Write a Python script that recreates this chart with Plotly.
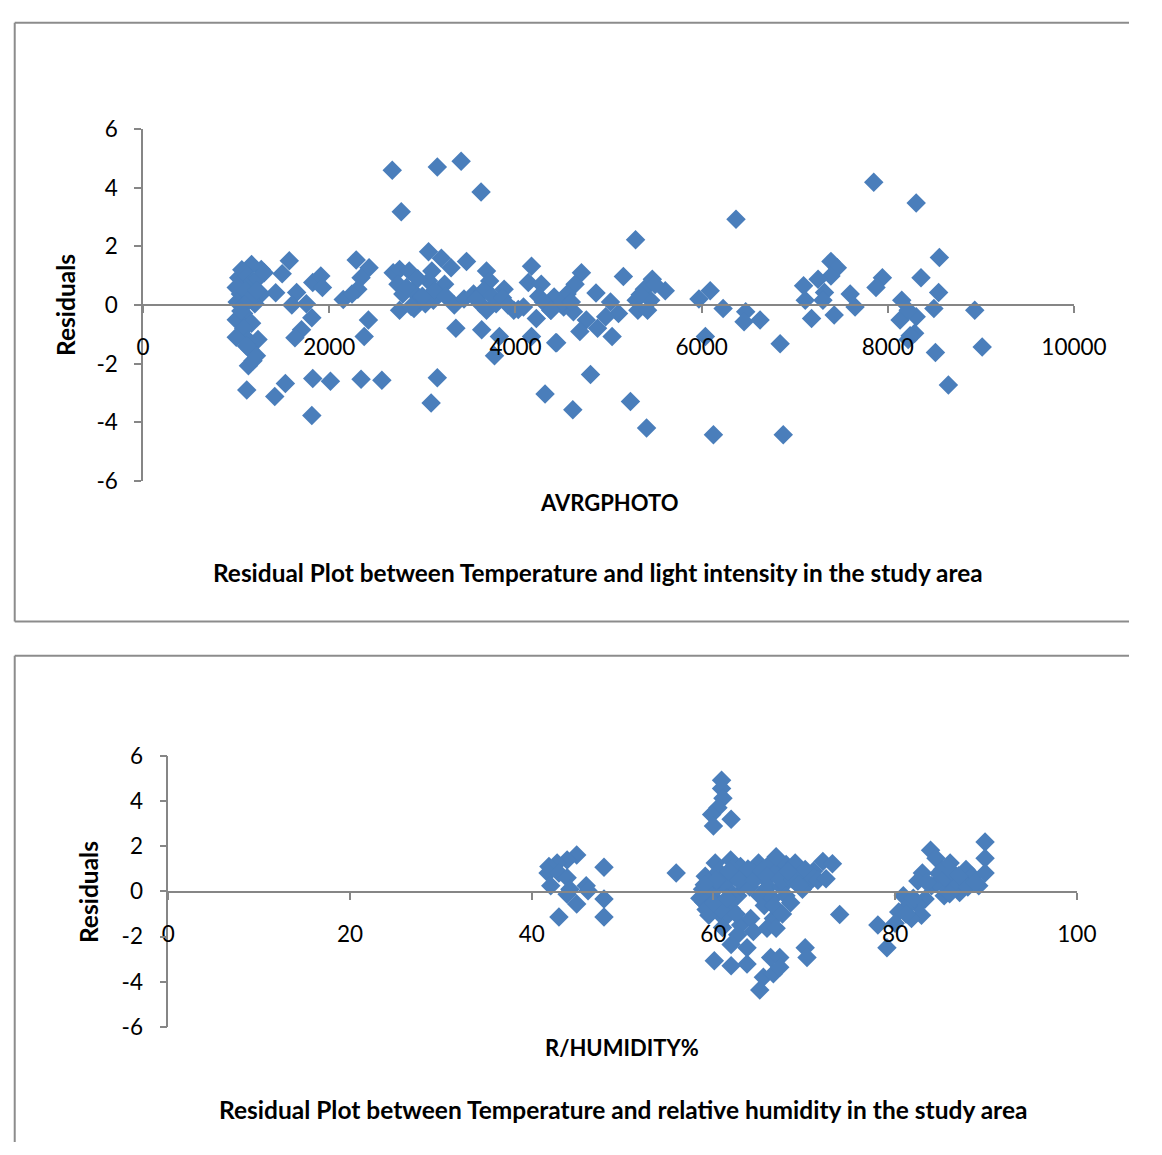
import plotly.graph_objects as go

# ---------------- data: top chart (AVRGPHOTO vs residuals) ----------------
photo_x = [
    1027, 1045, 1096, 1165, 1269, 1269, 1200, 1079, 1165, 1062, 1234, 1148, 1217, 1131, 1113,
    1000, 1060, 1120, 1180, 1230, 1300, 1010, 1100, 1150, 1000, 1080, 1130, 1000, 1180, 1110,
    1220, 1090, 1050,
    1424, 1494, 1570, 1414, 1528, 1649, 1597, 1753, 1812, 1701, 1631, 1822, 1909, 1926, 1822,
    1812, 2012, 2150, 2289, 2427, 2341, 2306, 2244, 2420, 2375, 2341, 2565, 2676, 2773, 3160,
    3416, 3630, 2686, 2755, 2859, 2738, 2790, 2893, 2963, 2755, 2910, 3032, 3066, 3204, 3308,
    3101, 3066, 3239, 3170, 3118, 3474, 3360, 3637, 3343, 3447, 3550, 3689, 3723, 3654, 3620,
    3689, 3792, 3878, 3775, 3827, 3982, 4086, 4172, 4138, 4277, 4224, 4432, 4172, 4415, 4380,
    4518, 3160, 3094, 4318,
    2830, 2950, 3000, 2880, 3130, 3250, 3580, 3750, 3860, 3920, 4030, 4250, 4300,
    7849, 8305, 6369, 5290, 8554, 7389, 7458, 7389, 7251, 7095, 7320, 7303, 7113, 7181, 7424,
    7596, 7648, 7942, 7873, 8357, 8150, 8546, 8495, 8132, 8305, 8219, 8288, 8219, 8512, 8651,
    8934, 9014, 4709, 4640, 4554, 4865, 5159, 5021, 5107, 4969, 4761, 4692, 4882, 5038, 4443,
    4623, 4485, 4381, 5470, 5384, 5609, 5297, 5453, 5315, 5419, 5971, 6092, 6040, 6231, 6473,
    6456, 6628, 6843, 4806, 4616, 5235, 5408, 6127, 6877,
    8240, 5340, 5500, 4600,
]
photo_res = [
    0.93, 0.38, 0.93, 1.38, 1.21, 0.38, 0.04, -0.29, -0.62, -1.07, -1.18, -1.51, -1.73, -2.07, -2.90,
    0.60, 1.20, 1.00, 0.80, 0.90, 1.10, 0.10, 0.50, 0.20, -0.50, -0.80, -1.20, -1.10, -1.90, -1.40,
    0.50, 0.00, -0.20,
    0.42, 1.07, 1.51, -3.12, -2.68, 0.43, 0.00, 0.04, -0.43, -0.84, -1.12, 0.77, 0.99, 0.60, -2.51,
    -3.77, -2.60, 0.19, 1.54, 1.27, 0.93, 0.54, 0.38, -0.51, -1.07, -2.53, -2.57, 4.60, 3.18, 4.71,
    4.91, 3.86, 1.10, 1.21, 1.16, 0.71, 0.38, 0.49, 0.16, -0.18, -0.12, 0.04, 1.82, 1.60, 1.27,
    1.16, 0.82, 0.71, 0.38, 0.16, 1.49, -0.79, -0.84, 0.00, 0.21, 0.38, 1.16, 0.82, 0.49, 0.04,
    -0.18, 0.04, 0.54, -1.73, -1.07, -0.18, -0.07, 1.32, 0.77, 0.71, -0.46, -1.29, -1.07, 0.27, -0.18,
    -0.07, -2.48, -3.34, -3.04,
    0.60, 0.90, 0.30, -0.05, 0.50, 0.30, 0.20, 0.30, 0.25, 0.00, -0.15, 0.30, 0.10,
    4.19, 3.48, 2.93, 2.23, 1.62, 1.49, 1.27, 0.99, 0.88, 0.66, 0.43, 0.16, 0.16, -0.46, -0.34,
    0.38, -0.07, 0.93, 0.60, 0.93, 0.16, 0.43, -0.12, -0.51, -0.40, -0.18, -0.96, -1.18, -1.62, -2.73,
    -0.18, -1.43, 1.10, 0.71, 0.38, 0.41, 0.97, 0.10, -0.29, -0.40, -0.51, -0.90, -0.79, -1.07, -1.29,
    -0.23, 0.04, -0.18, 0.88, 0.54, 0.49, 0.16, 0.16, -0.18, -0.18, 0.21, 0.49, -1.07, -0.12, -0.23,
    -0.57, -0.51, -1.32, -2.37, -3.57, -3.29, -4.20, -4.43, -4.43,
    -1.05, 0.35, 0.70, 0.10,
]

# ---------------- data: bottom chart (R/HUMIDITY% vs residuals) ----------------
hum_x = [
    44.95, 43.9, 42.8, 41.9, 41.8, 43.0, 43.9, 42.1, 44.2, 46.0, 46.2, 43.9, 44.95, 47.96, 47.96,
    47.96, 43.0, 55.9,
    60.9, 60.9, 61.05, 60.5, 59.8, 60.0, 61.95,
    60.2, 61.9, 62.98, 59.1, 60.9, 62.3, 58.8, 60.2, 61.6, 62.67, 58.95, 60.5, 61.95, 59.5, 61.2,
    63.0, 64.1, 64.4, 62.67, 61.95, 63.7, 60.1, 61.95, 63.7, 65.5, 65.1, 64.97, 64.4, 65.1, 66.3,
    65.8, 65.6, 66.6, 65.9, 66.3, 66.6,
    59.5, 60.6, 61.3, 62.0, 63.5, 59.8, 60.8, 62.2, 63.3, 64.0, 61.0, 62.5,
    58.5, 59.2, 60.0, 61.5, 62.8, 63.8, 61.7, 60.3, 59.0, 64.5, 65.3, 66.0, 67.0, 68.0, 69.5,
    70.5, 71.0, 66.5, 67.5,
    66.9, 69.0, 70.1, 70.99, 72.05, 73.1, 65.9, 67.3, 68.7, 69.8, 67.98, 66.6, 66.9, 73.9, 67.3,
    70.1, 70.3, 67.3, 68.2, 69.4, 71.5, 68.5, 67.6, 72.4,
    83.9, 84.5, 83.0, 82.5, 85.2, 86.05, 86.4, 87.8, 88.5, 89.9, 89.9, 89.9, 89.2, 87.1, 85.4,
    84.0, 83.3, 82.5, 82.9, 80.9, 81.45, 80.4, 80.0, 78.1, 79.1, 87.5, 84.6, 85.8, 88.0, 86.7,
    81.8, 84.8, 85.5, 86.2, 87.0, 88.8, 83.5, 82.0, 81.2, 86.0,
]
hum_res = [
    1.62, 1.40, 1.26, 1.11, 0.82, 0.82, 0.61, 0.25, 0.10, 0.25, 0.03, -0.12, -0.55, 1.08, -0.33,
    -1.13, -1.13, 0.82,
    4.93, 4.57, 4.14, 3.71, 3.42, 2.91, 3.20,
    1.26, 1.40, 1.11, 0.68, 0.68, 0.68, 0.10, 0.10, 0.10, -0.19, -0.48, -0.48, -0.76, -1.05, -1.20,
    -1.49, -1.20, -1.77, -1.92, -2.35, -2.50, -3.07, -3.29, -3.22, -3.80, -4.37, 1.26, 0.82, -0.19, 1.26,
    0.53, -0.62, -1.20, -1.63, -2.93, -3.65,
    0.40, 0.90, 0.40, 1.00, 0.80, -0.20, -0.80, -0.30, 0.30, 0.20, -1.60, -1.00,
    -0.30, -0.80, -0.50, -0.30, 0.50, 1.00, 0.90, 0.50, 0.30, 0.50, 0.90, 0.20, 0.90, 1.20, 0.80,
    0.40, 0.90, -0.30, 0.20,
    1.54, 1.26, 0.97, 0.61, 1.33, 1.23, 0.68, 0.53, 0.53, 0.10, -0.19, -0.62, -1.63, -1.02, -2.93,
    -2.50, -2.93, -3.36, 0.90, 0.30, 0.50, -0.50, -1.00, 0.56,
    1.83, 1.47, 0.82, 0.46, 0.97, 1.26, 0.68, 0.97, 0.68, 2.19, 1.47, 0.82, 0.25, -0.04, -0.19,
    0.25, -0.33, -0.62, -1.05, -0.19, -0.62, -0.91, -1.41, -1.49, -2.50, 0.39, 0.39, 0.10, 0.20, 0.50,
    -1.20, 0.80, 0.60, 0.90, 0.70, 0.40, 0.40, -0.30, -1.00, -0.10,
]

res_ticks = [-6, -4, -2, 0, 2, 4, 6]
res_ticktext = ["-6", "-4", "-2", "0", "2", "4", "6"]
photo_ticks = [0, 2000, 4000, 6000, 8000, 10000]
photo_ticktext = ["0", "2000", "4000", "6000", "8000", "10000"]
hum_ticks = [0, 20, 40, 60, 80, 100]
hum_ticktext = ["0", "20", "40", "60", "80", "100"]

W, H = 1162, 1155
FONT = "Lato"
AXC = "#868686"
MARKER = "#4A7EBB"

def px(x):
    return x / W

def py(y):
    return 1 - y / H

fig = go.Figure()
fig.add_trace(go.Scatter(
    x=photo_x, y=photo_res, mode="markers", xaxis="x", yaxis="y",
    marker=dict(symbol="diamond", size=15, color=MARKER, line=dict(width=0)),
    showlegend=False, cliponaxis=False,
))
fig.add_trace(go.Scatter(
    x=hum_x, y=hum_res, mode="markers", xaxis="x2", yaxis="y2",
    marker=dict(symbol="diamond", size=15, color=MARKER, line=dict(width=0)),
    showlegend=False, cliponaxis=False,
))

tickfont = dict(family=FONT, size=22.5, color="black")
common_x = dict(showline=True, linecolor=AXC, linewidth=1.5, ticks="outside", ticklen=7,
                tickcolor=AXC, tickwidth=1.5, showgrid=False, zeroline=False,
                tickfont=tickfont, anchor="free", ticklabelstandoff=15)
common_y = dict(showline=True, linecolor=AXC, linewidth=1.5, ticks="outside", ticklen=7,
                tickcolor=AXC, tickwidth=1.5, showgrid=False, zeroline=False,
                tickfont=tickfont, range=[-6, 6], tickvals=res_ticks, ticktext=res_ticktext,
                ticklabelstandoff=12)

fig.update_layout(
    width=W, height=H, margin=dict(l=0, r=0, t=0, b=0),
    paper_bgcolor="white", plot_bgcolor="white",
    xaxis=dict(domain=[px(141), px(1105)], range=[0, 10000], tickvals=photo_ticks,
               ticktext=photo_ticktext, position=py(298), **common_x),
    yaxis=dict(domain=[py(478), py(118)], anchor="x", **common_y),
    xaxis2=dict(domain=[px(167), px(1108)], range=[0, 100], tickvals=hum_ticks,
                ticktext=hum_ticktext, position=py(899), **common_x),
    yaxis2=dict(domain=[py(1037), py(760)], anchor="x2", **common_y),
)

annos = [
    ("Residuals", 60, 298, -90, 24.5),
    ("AVRGPHOTO", 623, 500, 0, 22),
    ("Residual Plot between Temperature and light intensity in the study area", 612, 572, 0, 24.4),
    ("Residuals", 85, 899, -90, 24.5),
    ("R/HUMIDITY%", 637, 1058, 0, 22),
    ("Residual Plot between Temperature and relative humidity in the study area", 638, 1122, 0, 24.5),
]
for text, x, y, ang, size in annos:
    fig.add_annotation(text=text, x=px(x), y=py(y), xref="paper", yref="paper",
                       showarrow=False, textangle=ang,
                       font=dict(family=FONT, size=size, color="black", weight="bold"),
                       xanchor="center", yanchor="middle")

BORDER = "#8C8C8C"
border_lines = [
    (8, 9, 1162, 9), (8, 9, 8, 622), (8, 622, 1162, 622),
    (8, 657, 1162, 657), (8, 657, 8, 1155),
]
for (x0, y0, x1, y1) in border_lines:
    fig.add_shape(type="line", xref="paper", yref="paper",
                  x0=px(x0), x1=px(x1), y0=py(y0), y1=py(y1),
                  line=dict(color=BORDER, width=2), layer="below")

fig.write_html("out.html", config={"displayModeBar": False},
               post_script="document.body.style.margin='0';document.body.style.overflow='hidden';")
